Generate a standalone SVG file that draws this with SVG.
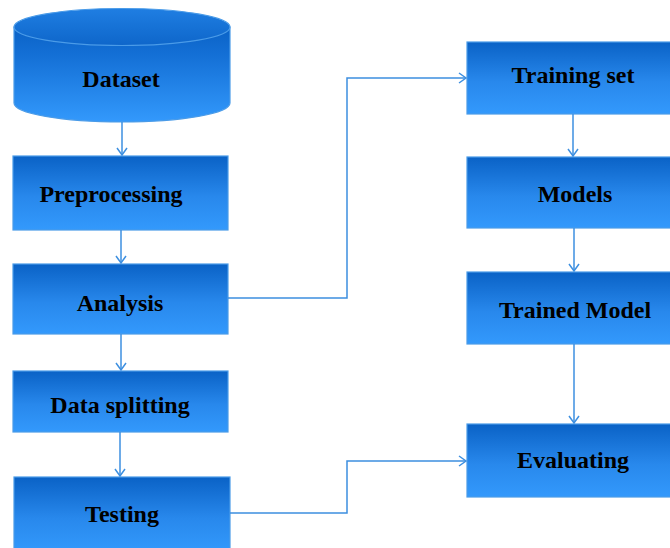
<svg xmlns="http://www.w3.org/2000/svg" width="670" height="548" viewBox="0 0 670 548">
<defs>
<linearGradient id="g" x1="0" y1="0" x2="0" y2="1">
<stop offset="0" stop-color="#0a62c6"/>
<stop offset="0.55" stop-color="#2888ec"/>
<stop offset="1" stop-color="#3399fc"/>
</linearGradient>
<linearGradient id="gc" x1="0" y1="0" x2="0" y2="1">
<stop offset="0" stop-color="#0a62c6"/>
<stop offset="0.3" stop-color="#1470d6"/>
<stop offset="1" stop-color="#3399fc"/>
</linearGradient>
<linearGradient id="gt" x1="0" y1="0" x2="0" y2="1">
<stop offset="0" stop-color="#1f7ee2"/>
<stop offset="1" stop-color="#0e66ca"/>
</linearGradient>
<marker id="a" markerWidth="12" markerHeight="12" refX="9" refY="6" orient="auto" markerUnits="userSpaceOnUse">
<path d="M2,1 L9,6 L2,11" fill="none" stroke="#3d8fe0" stroke-width="1.5"/>
</marker>
</defs>
<style>
.box{fill:url(#g);stroke:#4a9be8;stroke-width:1.2}
.lbl{font-family:"Liberation Serif","Times New Roman",serif;font-weight:bold;font-size:24px;fill:#000;text-anchor:middle}
.c{fill:none;stroke:#3d8fe0;stroke-width:1.5;marker-end:url(#a)}
</style>
<rect width="670" height="548" fill="#fff"/>
<g id="dataset">
<path d="M14,27 L14,103 A108,19 0 0 0 230,103 L230,27 Z" fill="url(#gc)" stroke="#4a9be8" stroke-width="1.2"/>
<ellipse cx="122" cy="27" rx="108" ry="18.5" fill="url(#gt)" stroke="#4a9be8" stroke-width="1.2"/>
<text class="lbl" x="121" y="87">Dataset</text>
</g>
<g id="preprocessing">
<rect class="box" x="13" y="156" width="215" height="74"/>
<text class="lbl" x="111" y="202">Preprocessing</text>
</g>
<g id="analysis">
<rect class="box" x="13" y="264" width="215" height="70"/>
<text class="lbl" x="120" y="311">Analysis</text>
</g>
<g id="datasplitting">
<rect class="box" x="13" y="371" width="215" height="61"/>
<text class="lbl" x="120" y="413">Data splitting</text>
</g>
<g id="testing">
<rect class="box" x="14" y="477" width="216" height="75"/>
<text class="lbl" x="122" y="522">Testing</text>
</g>
<g id="trainingset">
<rect class="box" x="467" y="42" width="214" height="72"/>
<text class="lbl" x="573" y="83">Training set</text>
</g>
<g id="models">
<rect class="box" x="467" y="157" width="214" height="71"/>
<text class="lbl" x="575" y="202">Models</text>
</g>
<g id="trainedmodel">
<rect class="box" x="467" y="272" width="214" height="72"/>
<text class="lbl" x="575" y="318">Trained Model</text>
</g>
<g id="evaluating">
<rect class="box" x="467" y="424" width="214" height="73"/>
<text class="lbl" x="573" y="468">Evaluating</text>
</g>
<g id="connectors">
<path class="c" d="M122,122 L122,155"/>
<path class="c" d="M121,230 L121,263"/>
<path class="c" d="M121,334 L121,370"/>
<path class="c" d="M120,432 L120,476"/>
<path class="c" d="M228,298 L347,298 L347,78 L466,78"/>
<path class="c" d="M230,513 L347,513 L347,461 L466,461"/>
<path class="c" d="M573,114 L573,156"/>
<path class="c" d="M574,228 L574,271"/>
<path class="c" d="M574,344 L574,423"/>
</g>
</svg>
